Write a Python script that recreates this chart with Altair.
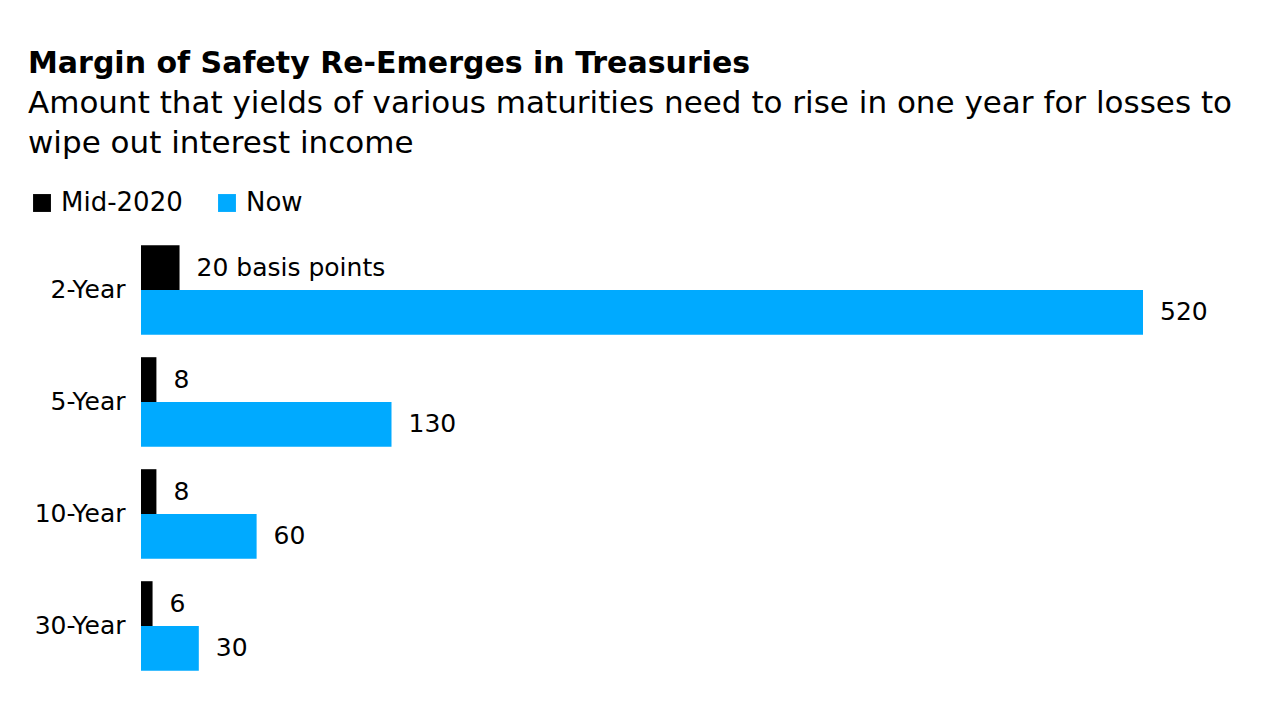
import altair as alt
import pandas as pd

maturities = ["2-Year", "5-Year", "10-Year", "30-Year"]
series = ["Mid-2020", "Now"]
mid2020 = [20, 8, 8, 6]
now = [520, 130, 60, 30]
mid_labels = ["20 basis points", "8", "8", "6"]
now_labels = ["520", "130", "60", "30"]

rows = []
for i, m in enumerate(maturities):
    rows.append({"maturity": m, "series": "Mid-2020", "value": mid2020[i], "label": mid_labels[i]})
    rows.append({"maturity": m, "series": "Now", "value": now[i], "label": now_labels[i]})
df = pd.DataFrame(rows)

FONT = "DejaVu Sans"

y_enc = alt.Y("maturity:N", sort=maturities,
              scale=alt.Scale(paddingInner=0.2, paddingOuter=0.1),
              axis=alt.Axis(title=None, domain=False, ticks=False, labelFontSize=25,
                            labelPadding=16, labelColor="#000000", labelFont=FONT))
yoff = alt.YOffset("series:N", sort=series, scale=alt.Scale(paddingInner=0, paddingOuter=0))
x_enc = alt.X("value:Q", scale=alt.Scale(domain=[0, 520], nice=False), axis=None)

base = alt.Chart(df).encode(y=y_enc, yOffset=yoff, x=x_enc)

bars = base.mark_bar().encode(
    color=alt.Color("series:N", sort=series,
                    scale=alt.Scale(domain=series, range=["#000000", "#00aaff"]),
                    legend=alt.Legend(title=None, orient="none", direction="horizontal",
                                      legendX=-112, legendY=-44, symbolType="square",
                                      symbolSize=320, symbolStrokeWidth=0, labelFontSize=26,
                                      labelFont=FONT, labelColor="#000000", columnPadding=31,
                                      labelOffset=6, symbolOpacity=1))
)

text = base.mark_text(align="left", baseline="middle", dx=17, fontSize=25, font=FONT,
                      color="#000000").encode(text="label:N")

chart = (bars + text).properties(
    width=1002,
    height=448,
    padding={"left": 133, "top": 226, "right": 110, "bottom": 20},
    autosize=alt.AutoSizeParams(type="none"),
    title=alt.TitleParams(
        text="Margin of Safety Re-Emerges in Treasuries",
        subtitle=["Amount that yields of various maturities need to rise in one year for losses to",
                  "wipe out interest income"],
        anchor="start", frame="group", dx=-113, offset=31,
        font=FONT, fontSize=30, fontWeight="bold", color="#000000",
        subtitleFont=FONT, subtitleFontSize=31, subtitleColor="#000000",
        subtitleLineHeight=40, subtitlePadding=10,
    ),
).configure_view(stroke=None)

chart.save("out.html", embed_options={"renderer": "svg", "actions": False})
